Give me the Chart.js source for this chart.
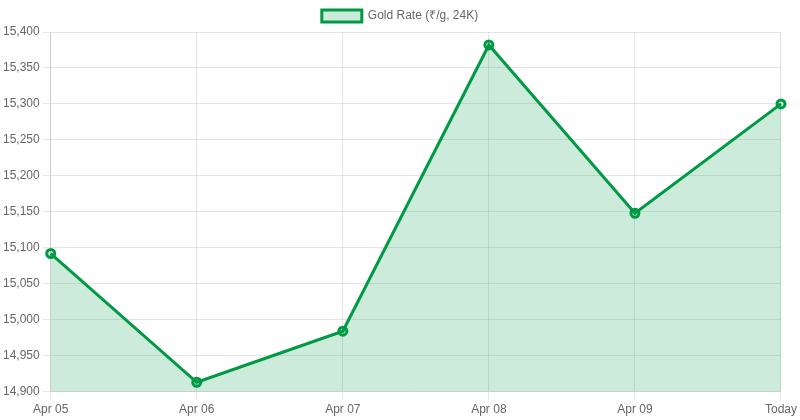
<!DOCTYPE html>
<html>
<head>
<meta charset="utf-8">
<script src="https://cdn.jsdelivr.net/npm/chart.js@4"></script>
<style>
  html, body { margin: 0; padding: 0; background: #fff; }
  #wrap { width: 800px; height: 420px; }
</style>
</head>
<body>
<div id="wrap"><canvas id="canvas"></canvas></div>
<script>
// Gold rate data
const labels = ["Apr 05", "Apr 06", "Apr 07", "Apr 08", "Apr 09", "Today"];
const rates = [15092, 14913, 14984, 15382, 15148, 15300];

Chart.defaults.font.family = "'Liberation Sans', Arial, sans-serif";
Chart.defaults.color = "#666";

const ctx = document.getElementById("canvas").getContext("2d");
new Chart(ctx, {
  type: "line",
  data: {
    labels: labels,
    datasets: [{
      label: "Gold Rate (₹/g, 24K)",
      data: rates,
      borderColor: "#009944",
      backgroundColor: "rgba(0, 153, 68, 0.2)",
      borderWidth: 3,
      pointRadius: 4,
      pointBorderWidth: 3,
      pointBackgroundColor: "rgba(0, 153, 68, 0.2)",
      tension: 0,
      fill: true
    }]
  },
  options: {
    responsive: true,
    maintainAspectRatio: false,
    animation: false,
    scales: {
      x: { grid: { color: "rgba(0,0,0,0.1)" } },
      y: { min: 14900, max: 15400, ticks: { stepSize: 50 }, grid: { color: "rgba(0,0,0,0.1)" } }
    },
    plugins: { legend: { labels: { boxWidth: 40 } } }
  }
});
</script>
</body>
</html>
